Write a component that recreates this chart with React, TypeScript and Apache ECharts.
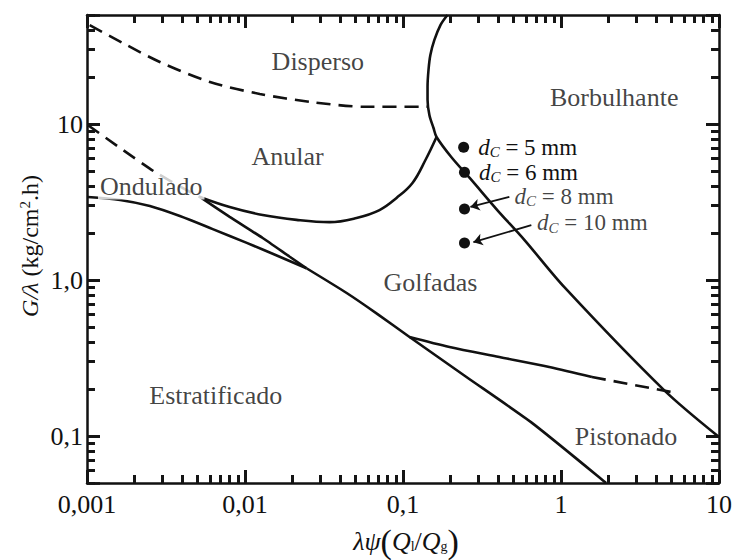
import { useEffect, useRef } from "react";
import * as echarts from "echarts";

const FONT = "Liberation Serif";
const INK = "#111111";

// Axis ranges and decade labels
const xRange = [0.001, 10];
const yRange = [0.05, 50];
const xDecades = [0.001, 0.01, 0.1, 1, 10];
const xTickLabels = ["0,001", "0,01", "0,1", "1", "10"];
const yDecades = [0.1, 1, 10];
const yTickLabels = ["0,1", "1,0", "10"];
const tickDecadesX = [0.001, 0.01, 0.1, 1, 10];
const tickDecadesY = [0.01, 0.1, 1, 10];

// Flow-regime boundaries, points are [λψ(Ql/Qg), G/λ]
const dispersoAnularDashed = [
  [0.00104, 43], [0.00169, 33], [0.00289, 25], [0.006, 18.6], [0.0124, 15.6],
  [0.0268, 13.8], [0.0587, 12.9], [0.143, 12.9],
];
const borbulhanteBoundary = [
  [0.191, 50], [0.1726, 43.1], [0.158, 34.6], [0.149, 27.7], [0.145, 22.2],
  [0.143, 17.3], [0.143, 14.3], [0.147, 11.4], [0.156, 9.43], [0.163, 8.26],
  [0.202, 6.15], [0.271, 4.38], [0.395, 2.81], [0.586, 1.81], [1.05, 0.9],
  [4.49, 0.197], [10, 0.0986],
];
const anularLower = [
  [0.00518, 3.41], [0.008, 2.94], [0.01294, 2.61], [0.0212, 2.43], [0.0343, 2.35],
  [0.0508, 2.5], [0.071, 2.81], [0.091, 3.36], [0.1148, 4.19], [0.1387, 5.88],
  [0.163, 8.26],
];
const onduladoDashed = [
  [0.00101, 9.86], [0.00162, 7.02], [0.00269, 4.93], [0.00448, 3.67], [0.00518, 3.41],
];
const onduladoDiagonal = [
  [0.00518, 3.41], [0.008, 2.54], [0.01294, 1.86], [0.0192, 1.41], [0.0245, 1.19],
];
const estratificadoUpper = [
  [0.00101, 3.41], [0.00162, 3.26], [0.0025, 2.98], [0.00387, 2.57], [0.00625, 2.12],
  [0.01026, 1.73], [0.01658, 1.41], [0.0245, 1.19],
];
const golfadasLower = [
  [0.0245, 1.19], [0.044, 0.826], [0.069, 0.605], [0.11, 0.431], [0.252, 0.239],
  [0.658, 0.121], [1.93, 0.05],
];
const pistonadoSolid = [
  [0.11, 0.431], [0.197, 0.372], [0.407, 0.321], [0.843, 0.277], [1.57, 0.239],
];
const pistonadoDashed = [
  [1.57, 0.239], [5.05, 0.191],
];

// Regime names and their anchor points
const regionNames = ["Disperso", "Anular", "Borbulhante", "Golfadas", "Estratificado", "Pistonado"];
const regionX = [0.0289, 0.0186, 2.17, 0.149, 0.00653, 2.58];
const regionY = [25, 6.15, 14.9, 0.97, 0.181, 0.0986];

// Channel diameters
const dcLabels = ["5", "6", "8", "10"];
const dcX = [0.242, 0.245, 0.245, 0.245];
const dcY = [7.1, 4.9, 2.85, 1.73];
// Arrows for 8 mm and 10 mm: [tail, head]
const dcArrows = [
  [[0.471, 3.41], [0.267, 2.94]],
  [[0.649, 2.25], [0.279, 1.75]],
];
const dcArrowLabelPos = [
  [0.49, 3.45],
  [0.68, 2.33],
];

// Plot area in pixels (grid)
const GRID = { left: 87, right: 15, top: 15, bottom: 77 };
const PLOT_W = 735 - GRID.left - GRID.right;
const PLOT_H = 560 - GRID.top - GRID.bottom;

function tickValues(decades: number[], min: number, max: number) {
  const out: { v: number; major: boolean }[] = [];
  decades.forEach((d) => {
    for (let k = 1; k <= 9; k++) {
      const v = d * k;
      if (v >= min * 0.999 && v <= max * 1.001) out.push({ v, major: k === 1 });
    }
  });
  return out;
}

function decadeFormatter(decades: number[], labels: string[]) {
  return (v: number) => {
    const i = decades.findIndex((d) => Math.abs(Math.log10(d) - Math.log10(v)) < 1e-6);
    return i >= 0 ? labels[i] : "";
  };
}

// Inward frame ticks as short segments in data space (log factor per pixel)
function frameTicks(major: number, minor: number) {
  const fx = (px: number) => Math.pow(xRange[1] / xRange[0], px / PLOT_W);
  const fy = (px: number) => Math.pow(yRange[1] / yRange[0], px / PLOT_H);
  const segs: number[][][] = [];
  tickValues(tickDecadesX, xRange[0], xRange[1]).forEach((t) => {
    const len = t.major ? major : minor;
    segs.push([[t.v, yRange[0]], [t.v, yRange[0] * fy(len)]]);
    segs.push([[t.v, yRange[1]], [t.v, yRange[1] / fy(len)]]);
  });
  tickValues(tickDecadesY, yRange[0], yRange[1]).forEach((t) => {
    const len = t.major ? major : minor;
    segs.push([[xRange[0], t.v], [xRange[0] * fx(len), t.v]]);
    segs.push([[xRange[1], t.v], [xRange[1] / fx(len), t.v]]);
  });
  return segs;
}

export default function App() {
  const ref = useRef<HTMLDivElement>(null);

  useEffect(() => {
    if (!ref.current) return;
    const chart = echarts.init(ref.current, null, { renderer: "svg" });

    const axisLine = { show: true, onZero: false, lineStyle: { color: INK, width: 2.5 } };
    const labelStyle = { color: INK, fontFamily: FONT, fontSize: 26 };

    const lineSeries = (data: number[][], dashed: boolean, smooth: number) => ({
      type: "line",
      data,
      showSymbol: false,
      symbol: "none",
      smooth,
      lineStyle: { color: INK, width: 2.6, type: dashed ? [14, 8] : "solid", cap: "butt" },
      z: 3,
    });

    const dcRich = {
      d: { fontStyle: "italic", fontSize: 23, fontFamily: FONT, color: INK },
      c: { fontStyle: "italic", fontSize: 15, fontFamily: FONT, color: INK, padding: [10, 0, 0, 0] },
      t: { fontSize: 23, fontFamily: FONT, color: INK },
    };

    // decade ticks come from the axis itself; the 2..9 ticks from the tick series
    const logAxis = (position: string, range: number[], label: any) => ({
      type: "log",
      logBase: 10,
      min: range[0],
      max: range[1],
      position,
      axisLine,
      axisTick: { show: true, inside: true, length: 13, lineStyle: { color: INK, width: 2.5 } },
      minorTick: { show: false },
      splitLine: { show: false },
      axisLabel: label,
    });

    chart.setOption({
      animation: false,
      grid: { ...GRID },
      xAxis: [
        logAxis("bottom", xRange, {
          ...labelStyle,
          margin: 8,
          showMinLabel: true,
          showMaxLabel: true,
          formatter: decadeFormatter(xDecades, xTickLabels),
        }),
        logAxis("top", xRange, { show: false }),
      ],
      yAxis: [
        logAxis("left", yRange, {
          ...labelStyle,
          margin: 4,
          formatter: decadeFormatter(yDecades, yTickLabels),
        }),
        logAxis("right", yRange, { show: false }),
      ],
      series: [
        {
          type: "lines",
          coordinateSystem: "cartesian2d",
          symbol: ["none", "none"],
          lineStyle: { color: "#151515", width: 3, opacity: 1 },
          z: 4,
          data: frameTicks(13, 8).map((c) => ({ coords: c })),
        },
        lineSeries(dispersoAnularDashed, true, 0.3),
        lineSeries(borbulhanteBoundary, false, 0.3),
        lineSeries(anularLower, false, 0.4),
        lineSeries(onduladoDashed, true, 0.2),
        lineSeries(onduladoDiagonal, false, 0.2),
        lineSeries(estratificadoUpper, false, 0.3),
        lineSeries(golfadasLower, false, 0.2),
        lineSeries(pistonadoSolid, false, 0.3),
        lineSeries(pistonadoDashed, true, 0),
        {
          type: "scatter",
          symbolSize: 1,
          itemStyle: { color: "rgba(0,0,0,0)" },
          z: 6,
          label: {
            show: true,
            position: "inside",
            formatter: "{b}",
            color: INK,
            fontFamily: FONT,
            fontSize: 26,
          },
          data: regionNames.map((n, i) => ({ name: n, value: [regionX[i], regionY[i]] })),
        },
        {
          type: "scatter",
          symbolSize: 1,
          itemStyle: { color: "rgba(0,0,0,0)" },
          z: 7,
          label: {
            show: true,
            position: "inside",
            formatter: "{b}",
            color: INK,
            fontFamily: FONT,
            fontSize: 26,
            backgroundColor: "#ffffff",
            padding: [1, 2, 0, 2],
          },
          data: [{ name: "Ondulado", value: [0.00255, 4.0] }],
        },
        {
          type: "scatter",
          symbol: "circle",
          symbolSize: 11,
          itemStyle: { color: INK, opacity: 1 },
          z: 5,
          label: {
            show: true,
            position: "right",
            distance: 9,
            rich: dcRich,
            formatter: (p: any) => (p.dataIndex < 2 ? `{d|d}{c|C}{t| = ${dcLabels[p.dataIndex]} mm}` : ""),
          },
          data: dcX.map((x, i) => [x, dcY[i]]),
        },
        {
          type: "scatter",
          symbolSize: 1,
          itemStyle: { color: "rgba(0,0,0,0)" },
          z: 5,
          label: {
            show: true,
            position: "right",
            distance: 2,
            rich: dcRich,
            formatter: (p: any) => `{d|d}{c|C}{t| = ${dcLabels[p.dataIndex + 2]} mm}`,
          },
          data: dcArrowLabelPos,
        },
        {
          type: "lines",
          coordinateSystem: "cartesian2d",
          symbol: ["none", "arrow"],
          symbolSize: 9,
          lineStyle: { color: INK, width: 1.8, opacity: 1 },
          z: 5,
          data: dcArrows.map((c) => ({ coords: c })),
        },
      ],
      graphic: [
        {
          type: "text",
          x: 30,
          y: 246,
          rotation: Math.PI / 2,
          style: {
            text: "{i|G/λ} (kg/cm{sup|2}.h)",
            fontFamily: FONT,
            fontSize: 24,
            fill: INK,
            align: "center",
            verticalAlign: "middle",
            rich: {
              i: { fontStyle: "italic", fontFamily: FONT, fontSize: 24, fill: INK },
              sup: { fontFamily: FONT, fontSize: 15, fill: INK, padding: [0, 0, 10, 0] },
            },
          },
        },
        {
          type: "text",
          x: 406,
          y: 541,
          style: {
            text: "{i|λψ}{p|(}{i|Q}{s|l}{t|/}{i|Q}{s|g}{p|)}",
            fontFamily: FONT,
            fontSize: 26,
            fill: INK,
            align: "center",
            verticalAlign: "middle",
            rich: {
              i: { fontStyle: "italic", fontFamily: FONT, fontSize: 26, fill: INK },
              t: { fontFamily: FONT, fontSize: 26, fill: INK },
              p: { fontFamily: FONT, fontSize: 34, fill: INK },
              s: { fontFamily: FONT, fontSize: 14, fill: INK, padding: [11, 0, 0, 0] },
            },
          },
        },
      ],
    });

    return () => chart.dispose();
  }, []);

  return (
    <div
      ref={ref}
      style={{ position: "absolute", left: 0, top: 0, width: 735, height: 560 }}
    />
  );
}
